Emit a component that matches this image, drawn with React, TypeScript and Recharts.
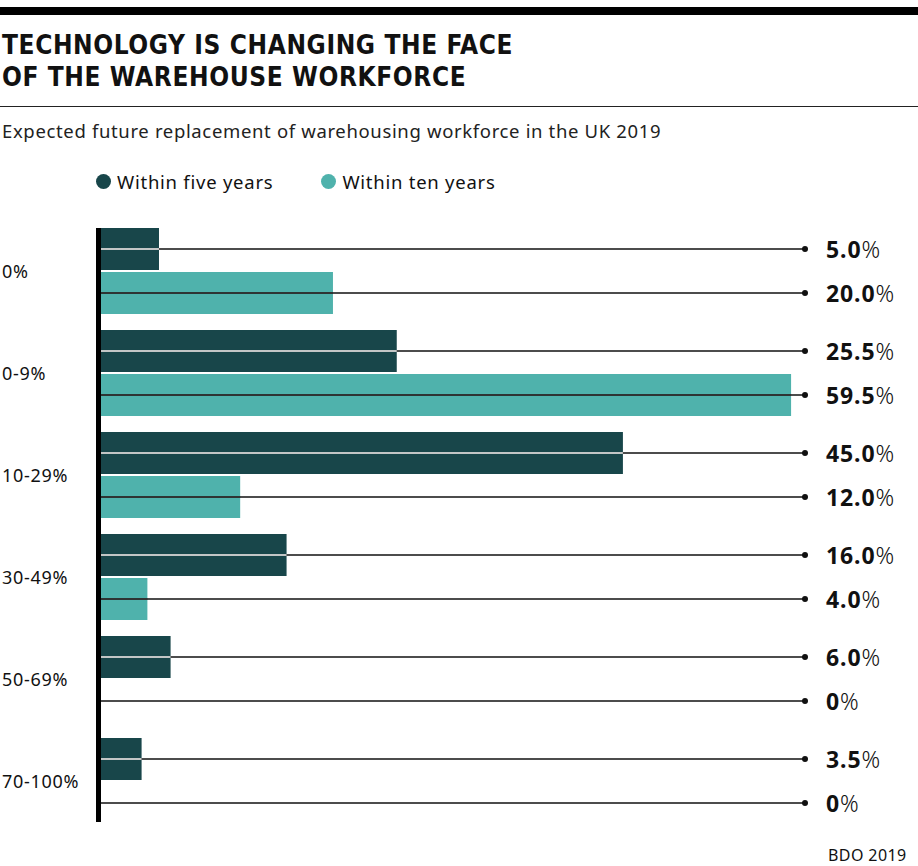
import React from "react";
import { BarChart, Bar, XAxis, YAxis, Customized } from "recharts";

const CATEGORIES = ["0%", "0-9%", "10-29%", "30-49%", "50-69%", "70-100%"];
const FIVE_YEARS = [5.0, 25.5, 45.0, 16.0, 6.0, 3.5];
const TEN_YEARS = [20.0, 59.5, 12.0, 4.0, 0, 0];
const SERIES_NAMES = ["Within five years", "Within ten years"];
const X_MAX = 60.7;

const DARK = "#18464a";
const TEAL = "#4fb2ac";
const INK = "#111";
const FONT = "'Noto Sans', sans-serif";

const W = 918;
const H = 866;
const MARGIN = { top: 220, right: 113, bottom: 34, left: 0 };
const AXIS_W = 101;
const CAT_GAP = 8;
const LINE_END = W - MARGIN.right;

const data = CATEGORIES.map((category, i) => ({
  category,
  five: FIVE_YEARS[i],
  ten: TEN_YEARS[i],
}));

const fmt = (v: number) => (v === 0 ? "0" : v.toFixed(1));

function makeShape(fill: string, inner: string) {
  return (props: any) => {
    const { x, y, width, height } = props;
    const raw = props.value;
    const v = Array.isArray(raw) ? raw[1] - raw[0] : raw;
    const cy = y + height / 2;
    return (
      <g>
        {width > 0 && <rect x={x} y={y} width={width} height={height} fill={fill} />}
        <line x1={x} x2={LINE_END} y1={cy} y2={cy} stroke={INK} strokeWidth={1.6} />
        {width > 0 && (
          <line x1={x} x2={x + width} y1={cy} y2={cy} stroke={inner} strokeWidth={1.6} />
        )}
        <circle cx={LINE_END} cy={cy} r={3} fill={INK} />
        <text
          x={LINE_END + 21}
          y={cy}
          dominantBaseline="central"
          fontFamily={FONT}
          fontSize={23}
          letterSpacing={0.9}
          fill={INK}
        >
          <tspan fontWeight={700}>{fmt(v)}</tspan>
          <tspan fontWeight={300}>%</tspan>
        </text>
      </g>
    );
  };
}

const CategoryTick = (props: any) => {
  const { y, payload } = props;
  return (
    <text
      x={2}
      y={y}
      dominantBaseline="central"
      fontFamily={FONT}
      fontSize={18}
      letterSpacing={0.7}
      fill={INK}
    >
      {payload.value}
    </text>
  );
};

// thick vertical spine from first bar top to last bar bottom
const Spine = () => {
  const top = MARGIN.top + CAT_GAP;
  const bottom = H - MARGIN.bottom - CAT_GAP - 2;
  return <rect x={AXIS_W - 5} y={top} width={5} height={bottom - top} fill="#000" />;
};

export default function App() {
  return (
    <div
      style={{
        position: "absolute",
        top: 0,
        left: 0,
        width: W,
        height: H,
        background: "#fff",
        fontFamily: FONT,
        color: INK,
        overflow: "hidden",
      }}
    >
      <div style={{ position: "absolute", top: 7, left: 0, width: W, height: 8, background: "#000" }} />
      <div
        style={{
          position: "absolute",
          top: 29,
          left: 2,
          fontFamily: "'Liberation Sans Narrow', 'DejaVu Sans Condensed', sans-serif",
          fontWeight: 700,
          fontSize: 26,
          lineHeight: "32px",
          letterSpacing: 0.6,
        }}
      >
        TECHNOLOGY IS CHANGING THE FACE
        <br />
        OF THE WAREHOUSE WORKFORCE
      </div>
      <div style={{ position: "absolute", top: 106, left: 0, width: W, height: 1, background: "#222" }} />
      <div
        style={{
          position: "absolute",
          top: 118,
          left: 2,
          fontSize: 18.5,
          letterSpacing: 0.65,
          color: "#222",
          whiteSpace: "nowrap",
        }}
      >
        Expected future replacement of warehousing workforce in the UK 2019
      </div>
      <div
        style={{
          position: "absolute",
          top: 169,
          left: 96,
          display: "flex",
          fontSize: 18.5,
          letterSpacing: 0.75,
          whiteSpace: "nowrap",
        }}
      >
        {SERIES_NAMES.map((name, i) => (
          <div key={name} style={{ display: "flex", alignItems: "center", marginRight: 48 }}>
            <span
              style={{
                width: 15,
                height: 15,
                borderRadius: "50%",
                background: i === 0 ? DARK : TEAL,
                marginRight: 6,
              }}
            />
            {name}
          </div>
        ))}
      </div>
      <div style={{ position: "absolute", top: 0, left: 0 }}>
        <BarChart
          width={W}
          height={H}
          data={data}
          layout="vertical"
          margin={MARGIN}
          barGap={2}
          barCategoryGap={CAT_GAP}
        >
          <XAxis type="number" domain={[0, X_MAX]} hide />
          <YAxis
            type="category"
            dataKey="category"
            width={AXIS_W}
            axisLine={false}
            tickLine={false}
            tick={<CategoryTick />}
          />
          <Bar dataKey="five" name={SERIES_NAMES[0]} shape={makeShape(DARK, "#fff")} isAnimationActive={false} />
          <Bar dataKey="ten" name={SERIES_NAMES[1]} shape={makeShape(TEAL, "#333")} isAnimationActive={false} />
          <Customized component={Spine} />
        </BarChart>
      </div>
      <div style={{ position: "absolute", top: 844, left: 828, fontSize: 16, letterSpacing: 0.4 }}>
        BDO 2019
      </div>
    </div>
  );
}
